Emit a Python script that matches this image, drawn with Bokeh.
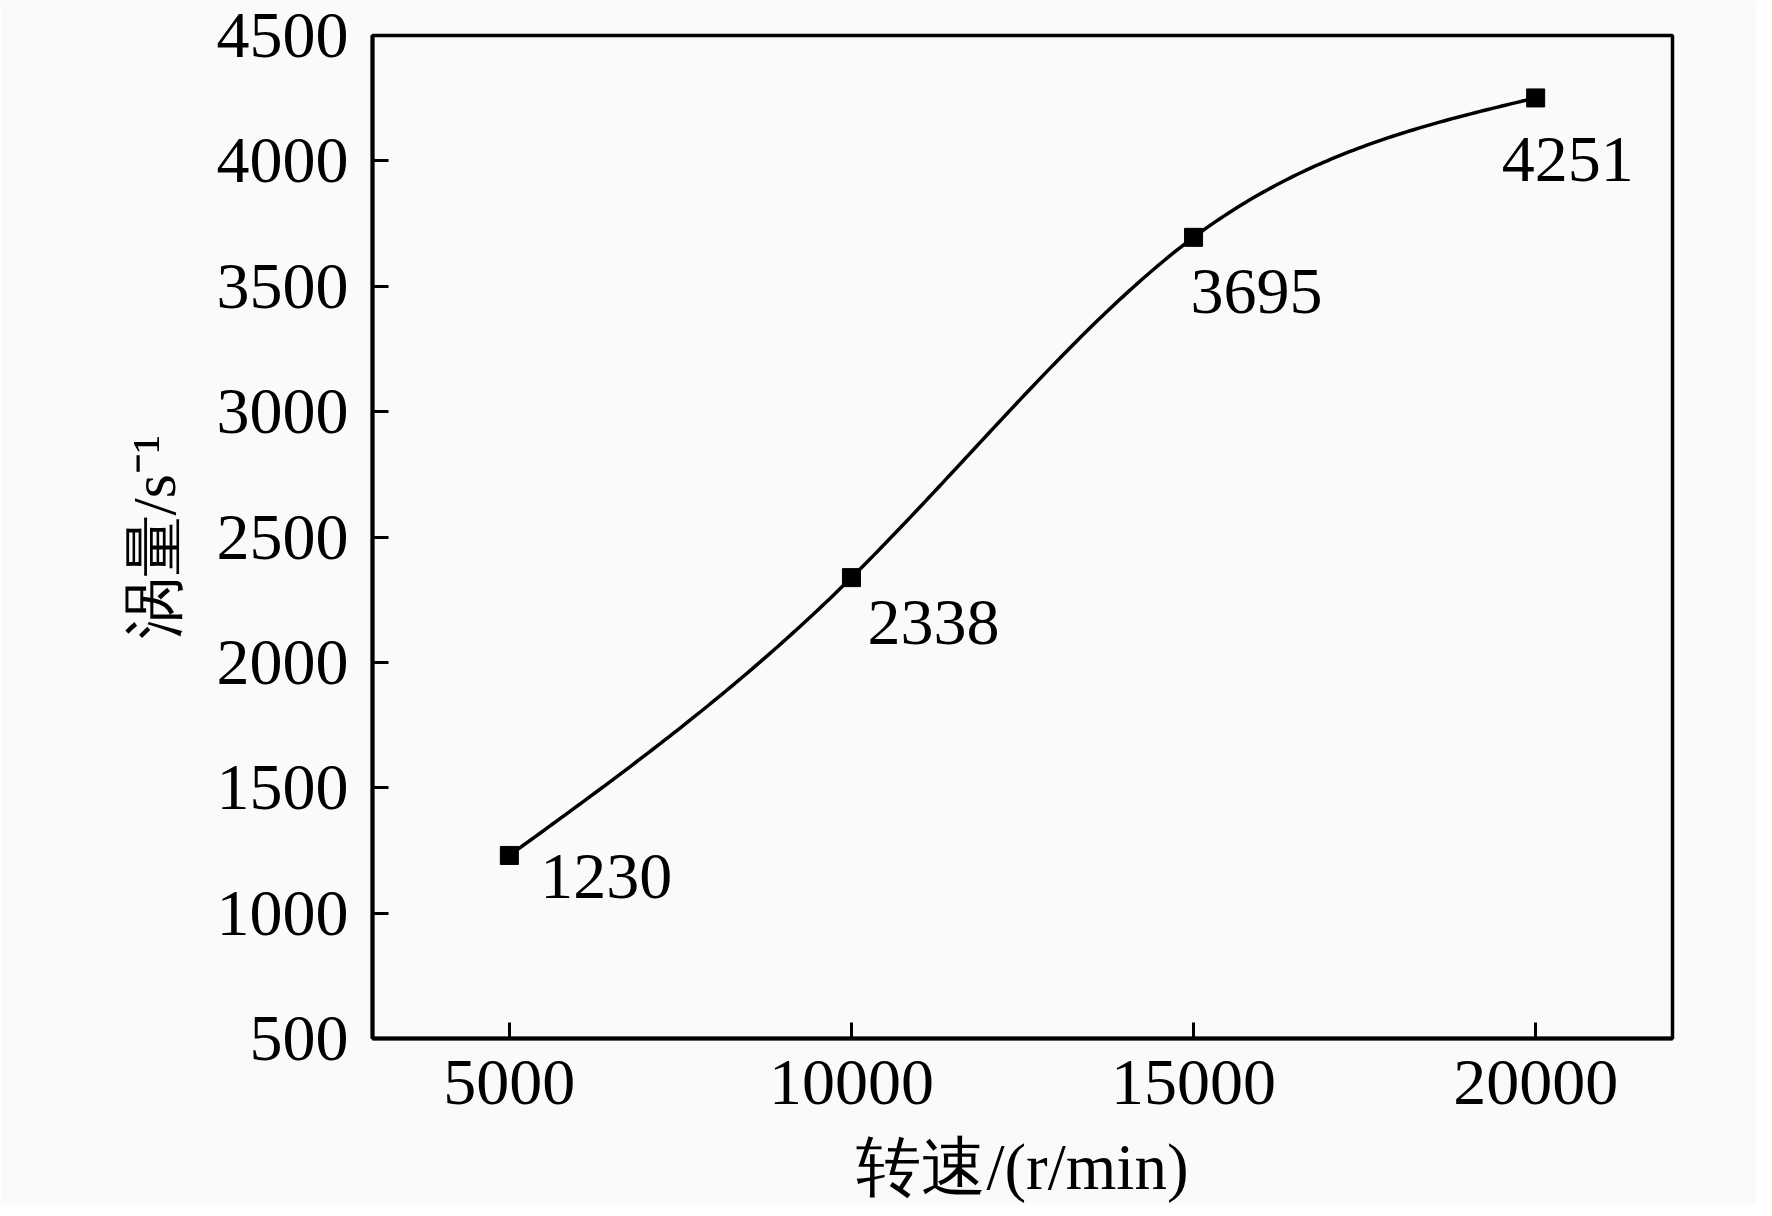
import numpy as np
from bokeh.plotting import figure
from bokeh.models import FixedTicker, ColumnDataSource, Range1d
from bokeh.core.properties import value
from bokeh.embed import file_html
from bokeh.resources import INLINE

# data
speed = [5000, 10000, 15000, 20000]
vorticity = [1230, 2338, 3695, 4251]
point_labels = ["1230", "2338", "3695", "4251"]
label_dx = [31, 16, -3, -34]
label_dy = [21, 45, 54, 62]
x_ticks = [5000, 10000, 15000, 20000]
y_ticks = [500, 1000, 1500, 2000, 2500, 3000, 3500, 4000, 4500]

# natural cubic spline through the measured points (line smoothing only)
xs = np.array(speed, dtype=float)
ys = np.array(vorticity, dtype=float)
n = len(xs)
h = np.diff(xs)
A = np.zeros((n, n))
b = np.zeros(n)
A[0, 0] = 1
A[-1, -1] = 1
for i in range(1, n - 1):
    A[i, i - 1] = h[i - 1]
    A[i, i] = 2 * (h[i - 1] + h[i])
    A[i, i + 1] = h[i]
    b[i] = 6 * ((ys[i + 1] - ys[i]) / h[i] - (ys[i] - ys[i - 1]) / h[i - 1])
M = np.linalg.solve(A, b)
cx, cy = [], []
for i in range(n - 1):
    t = np.linspace(xs[i], xs[i + 1], 80)
    a = xs[i + 1] - t
    c = t - xs[i]
    s = (M[i] * a**3 + M[i + 1] * c**3) / (6 * h[i]) \
        + (ys[i] / h[i] - M[i] * h[i] / 6) * a \
        + (ys[i + 1] / h[i] - M[i + 1] * h[i] / 6) * c
    cx.extend(t.tolist())
    cy.extend(s.tolist())

FONT = "Liberation Serif"
BG = "#fafafa"

p = figure(
    frame_width=1300, frame_height=1003,
    min_border_left=372, min_border_right=84,
    min_border_top=35, min_border_bottom=162,
    x_range=Range1d(3000, 22000), y_range=Range1d(500, 4500),
    output_backend="svg", toolbar_location=None,
    background_fill_color=BG, border_fill_color=BG,
)
p.grid.visible = False
p.outline_line_color = "black"
p.outline_line_width = 3.5
p.outline_line_alpha = 1

p.line(cx, cy, line_color="black", line_width=3.5)
src = ColumnDataSource(dict(x=speed, y=vorticity, t=point_labels, dx=label_dx, dy=label_dy))
p.scatter("x", "y", source=src, marker="square", size=18, color="black")
p.text("x", "y", text="t", source=src, x_offset="dx", y_offset="dy",
       text_font=value(FONT), text_font_size="66px", text_color="black",
       text_baseline="alphabetic", text_align="left")

for ax in (p.xaxis[0], p.yaxis[0]):
    ax.axis_line_width = 4
    ax.axis_line_color = "black"
    ax.major_tick_in = 16
    ax.major_tick_out = 0
    ax.major_tick_line_width = 3
    ax.major_tick_line_color = "black"
    ax.minor_tick_line_color = None
    ax.major_label_text_font = FONT
    ax.major_label_text_font_size = "66px"
    ax.major_label_text_color = "black"
    ax.axis_label_text_font = FONT
    ax.axis_label_text_font_style = "normal"
    ax.axis_label_text_color = "black"

p.xaxis.ticker = FixedTicker(ticks=x_ticks)
p.yaxis.ticker = FixedTicker(ticks=y_ticks)
p.xaxis.major_label_standoff = 22
p.yaxis.major_label_standoff = 24
p.xaxis.axis_label = "转速/(r/min)"
p.xaxis.axis_label_text_font_size = "65px"
p.xaxis.axis_label_standoff = 24
p.yaxis.axis_label = "涡量/s⁻¹"
p.yaxis.axis_label_text_font_size = "62px"
p.yaxis.axis_label_standoff = 26

html = file_html(p, INLINE)
html = html.replace("<body>", '<body style="background:%s">' % BG, 1)
open("out.html", "w").write(html)
